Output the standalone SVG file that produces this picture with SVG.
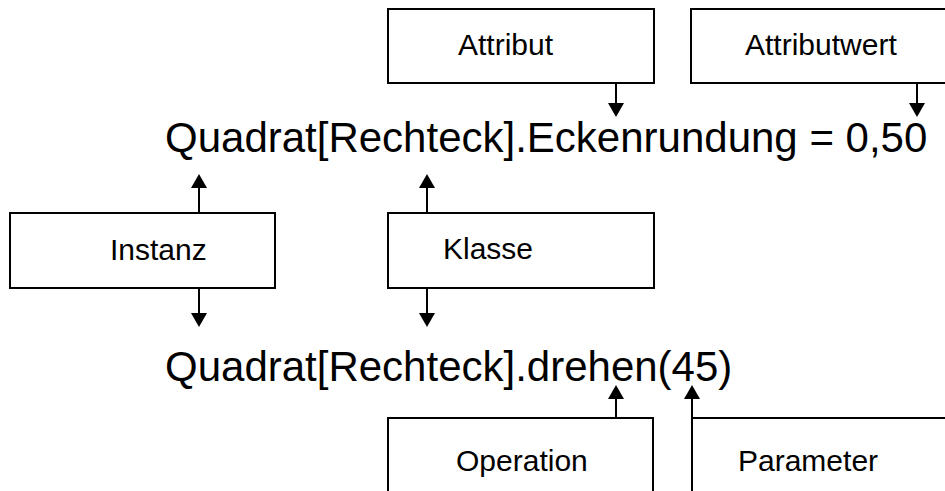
<svg xmlns="http://www.w3.org/2000/svg" width="945" height="491" viewBox="0 0 945 491">
<defs>
<style>
.box{fill:#fff;stroke:#000;stroke-width:2}
.lbl{font-family:"Liberation Sans",Arial,sans-serif;font-size:30px;fill:#000}
.big{font-family:"Liberation Sans",Arial,sans-serif;font-size:42px;fill:#000}
.conn{stroke:#000;stroke-width:2;fill:none}
</style>
<marker id="arr" markerUnits="userSpaceOnUse" markerWidth="16" markerHeight="16" refX="8" refY="8" orient="auto" viewBox="0 0 16 16">
<path d="M0,0 L14,8 L0,16 z" fill="#000"/>
</marker>
</defs>
<rect width="945" height="491" fill="#fff"/>
<g id="attribut"><rect class="box" x="388" y="9" width="266" height="74"/><text class="lbl" x="458" y="55">Attribut</text></g>
<g id="attributwert"><rect class="box" x="691" y="9" width="270" height="74"/><text class="lbl" x="745" y="55">Attributwert</text></g>
<g id="instanz"><rect class="box" x="10" y="213" width="265" height="75"/><text class="lbl" x="110" y="260">Instanz</text></g>
<g id="klasse"><rect class="box" x="388" y="213" width="266" height="75"/><text class="lbl" x="443" y="259">Klasse</text></g>
<g id="operation"><rect class="box" x="388" y="418" width="265" height="90"/><text class="lbl" x="456" y="471">Operation</text></g>
<g id="parameter"><rect class="box" x="692" y="418" width="270" height="90"/><text class="lbl" x="738" y="471">Parameter</text></g>
<g id="ausdruck1"><text class="big" x="165" y="152">Quadrat[Rechteck].Eckenrundung = 0,50</text></g>
<g id="ausdruck2"><text class="big" x="165" y="381">Quadrat[Rechteck].drehen(45)</text></g>
<g id="connectors">
<line class="conn" x1="616" y1="83" x2="616" y2="111" marker-end="url(#arr)"/>
<line class="conn" x1="917" y1="83" x2="917" y2="111" marker-end="url(#arr)"/>
<line class="conn" x1="199" y1="213" x2="199" y2="180" marker-end="url(#arr)"/>
<line class="conn" x1="199" y1="288" x2="199" y2="321" marker-end="url(#arr)"/>
<line class="conn" x1="427" y1="213" x2="427" y2="180" marker-end="url(#arr)"/>
<line class="conn" x1="427" y1="288" x2="427" y2="321" marker-end="url(#arr)"/>
<line class="conn" x1="616" y1="418" x2="616" y2="391" marker-end="url(#arr)"/>
<line class="conn" x1="692" y1="418" x2="692" y2="391" marker-end="url(#arr)"/>
</g>
</svg>
